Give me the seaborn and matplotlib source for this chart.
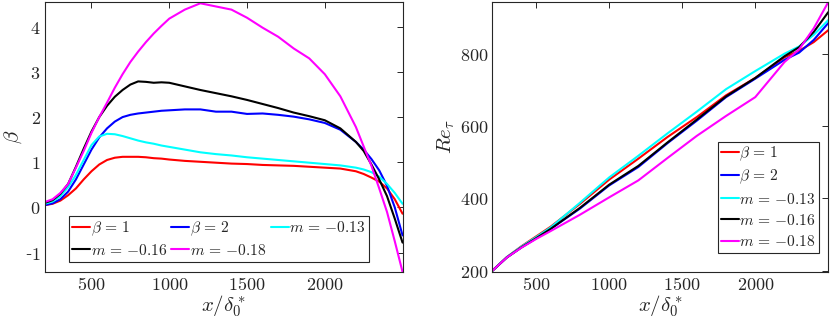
import seaborn as sns
import pandas as pd
import matplotlib.pyplot as plt
from matplotlib.ticker import FuncFormatter

# beta(x) curves, left panel
x_beta = [200, 250, 300, 350, 400, 450, 500, 550, 600, 650, 700, 750, 800, 850, 900, 950, 1000,
          1100, 1200, 1300, 1400, 1500, 1600, 1700, 1800, 1900, 2000, 2100, 2200, 2250, 2300,
          2350, 2400, 2450, 2500]
beta_b1 = [0.05, 0.08, 0.15, 0.27, 0.42, 0.62, 0.80, 0.95, 1.05, 1.10, 1.12, 1.12, 1.12, 1.11, 1.09,
           1.08, 1.06, 1.03, 1.01, 0.99, 0.97, 0.96, 0.94, 0.93, 0.92, 0.90, 0.88, 0.86, 0.80,
           0.74, 0.66, 0.57, 0.42, 0.18, -0.14]
beta_b2 = [0.05, 0.09, 0.18, 0.35, 0.62, 0.95, 1.28, 1.55, 1.75, 1.90, 2.00, 2.05, 2.08, 2.10, 2.12,
           2.14, 2.15, 2.17, 2.17, 2.12, 2.12, 2.07, 2.08, 2.05, 2.01, 1.95, 1.87, 1.72, 1.45,
           1.28, 1.07, 0.82, 0.48, 0.00, -0.62]
beta_m13 = [0.08, 0.13, 0.25, 0.45, 0.72, 1.05, 1.38, 1.57, 1.63, 1.62, 1.58, 1.53, 1.48, 1.44, 1.41,
            1.37, 1.34, 1.28, 1.22, 1.18, 1.15, 1.11, 1.08, 1.05, 1.02, 0.99, 0.96, 0.93, 0.88,
            0.84, 0.78, 0.68, 0.52, 0.32, 0.08]
beta_m16 = [0.10, 0.16, 0.30, 0.52, 0.90, 1.30, 1.68, 2.00, 2.25, 2.45, 2.60, 2.72, 2.79, 2.78, 2.76,
            2.77, 2.76, 2.68, 2.60, 2.53, 2.46, 2.38, 2.29, 2.20, 2.10, 2.02, 1.93, 1.75, 1.45,
            1.25, 0.95, 0.62, 0.25, -0.25, -0.78]
beta_m18 = [0.12, 0.18, 0.32, 0.52, 0.88, 1.25, 1.65, 2.00, 2.32, 2.65, 2.95, 3.22, 3.45, 3.66, 3.85,
            4.02, 4.18, 4.38, 4.52, 4.45, 4.38, 4.20, 3.98, 3.78, 3.52, 3.30, 2.95, 2.46, 1.78,
            1.35, 0.92, 0.42, -0.10, -0.75, -1.43]

# Re_tau(x) curves, right panel
x_re = [200, 300, 400, 500, 600, 800, 1000, 1200, 1400, 1600, 1800, 2000, 2200, 2300, 2400, 2500]
re_b1 = [200, 238, 268, 295, 322, 385, 452, 510, 570, 625, 685, 733, 790, 808, 832, 865]
re_b2 = [200, 237, 265, 290, 316, 372, 436, 487, 553, 615, 680, 731, 783, 803, 838, 885]
re_m13 = [200, 238, 267, 293, 320, 388, 458, 518, 580, 640, 702, 752, 800, 820, 852, 893]
re_m16 = [200, 237, 265, 290, 316, 374, 438, 490, 555, 618, 682, 733, 793, 818, 860, 915]
re_m18 = [200, 237, 264, 288, 310, 355, 403, 450, 512, 573, 628, 680, 777, 812, 870, 943]

labels = [r'$\beta\,=\,1$', r'$\beta\,=\,2$', r'$m\,=\,{-}0.13$', r'$m\,=\,{-}0.16$', r'$m\,=\,{-}0.18$']
colors = ['#ff0000', '#0000ff', '#00ffff', '#000000', '#ff00ff']

df_beta = pd.concat([pd.DataFrame({'x': x_beta, 'y': v, 'case': lab})
                     for v, lab in zip([beta_b1, beta_b2, beta_m13, beta_m16, beta_m18], labels)])
df_re = pd.concat([pd.DataFrame({'x': x_re, 'y': v, 'case': lab})
                   for v, lab in zip([re_b1, re_b2, re_m13, re_m16, re_m18], labels)])

sns.set_style('white')
plt.rcParams['font.family'] = ['DejaVu Serif']
plt.rcParams['mathtext.fontset'] = 'cm'
plt.rcParams['axes.unicode_minus'] = False

fig = plt.figure(figsize=(8.3, 3.23), dpi=100)
ax1 = fig.add_axes([0.054, 0.158, 0.431, 0.836])
ax2 = fig.add_axes([0.593, 0.158, 0.405, 0.836])

pal = dict(zip(labels, colors))
sns.lineplot(data=df_beta, x='x', y='y', hue='case', palette=pal, lw=1.5, ax=ax1, sort=False)
sns.lineplot(data=df_re, x='x', y='y', hue='case', palette=pal, lw=1.5, ax=ax2, sort=False)


def fmt(v, pos):
    s = '%g' % abs(v)
    return ('-' if v < 0 else '') + '$' + s + '$'


for ax in (ax1, ax2):
    ax.set_xlim(200, 2500)
    ax.set_xticks([500, 1000, 1500, 2000])
    ax.xaxis.set_major_formatter(FuncFormatter(fmt))
    ax.yaxis.set_major_formatter(FuncFormatter(fmt))
    ax.tick_params(direction='in', top=True, right=True, length=4, width=0.7,
                   colors='#262626', labelsize=13, pad=3)
    for sp in ax.spines.values():
        sp.set_color('#262626')
        sp.set_linewidth(0.8)
    ax.set_xlabel(r'$x/\delta_0^*$', fontsize=15, labelpad=0, color='#262626')

ax1.set_ylim(-1.43, 4.55)
ax1.set_yticks([-1, 0, 1, 2, 3, 4])
ax1.set_ylabel(r'$\beta$', fontsize=15, labelpad=1, color='#262626')
ax2.set_ylim(197, 943)
ax2.set_yticks([200, 400, 600, 800])
ax2.set_ylabel(r'$Re_\tau$', fontsize=15, labelpad=2, color='#262626')

# left legend: 3 columns filled row-wise
h, l = ax1.get_legend_handles_labels()
order = [0, 3, 1, 4, 2]
leg1 = ax1.legend([h[i] for i in order], [l[i] for i in order], ncol=3, loc='lower center',
                  bbox_to_anchor=(0.487, 0.037), fontsize=11.2, handlelength=1.15, handletextpad=0.05,
                  columnspacing=0.25, labelspacing=0.25, borderpad=0.2, borderaxespad=0,
                  fancybox=False, framealpha=1, edgecolor='#262626')
leg1.get_frame().set_linewidth(0.8)

leg2 = ax2.legend(loc='lower right', bbox_to_anchor=(0.973, 0.07), fontsize=11.2, handlelength=1.15,
                  handletextpad=0.05, labelspacing=0.27, borderpad=0.2, borderaxespad=0,
                  fancybox=False, framealpha=1, edgecolor='#262626')
leg2.get_frame().set_linewidth(0.8)

fig.savefig('out.png', dpi=100)
